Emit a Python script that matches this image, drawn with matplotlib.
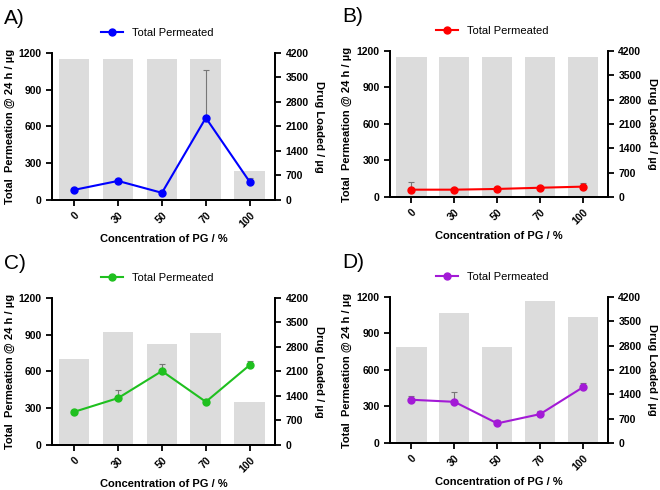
import numpy as np
import matplotlib.pyplot as plt

plt.rcParams['font.family'] = ['Liberation Sans', 'DejaVu Sans']

categories = ["0", "30", "50", "70", "100"]

# drug loaded (right axis, bars)
loaded_a = [4030, 4030, 4030, 4030, 830]
loaded_b = [4030, 4030, 4030, 4030, 4030]
loaded_c = [2460, 3220, 2890, 3200, 1240]
loaded_d = [2750, 3750, 2750, 4085, 3630]

# total permeated (left axis, line) with upper error
perm_a = [82, 155, 58, 670, 147]
err_a = [6, 14, 4, 390, 36]
perm_b = [60, 60, 66, 76, 85]
err_b = [66, 3, 4, 6, 27]
perm_c = [270, 382, 603, 352, 652]
err_c = [6, 65, 57, 8, 35]
perm_d = [355, 338, 161, 237, 458]
err_d = [35, 78, 30, 28, 33]

panels = [
    ("A)", loaded_a, perm_a, err_a, "#0000ff", [0.079, 0.592, 0.338, 0.300]),
    ("B)", loaded_b, perm_b, err_b, "#ff0000", [0.591, 0.598, 0.330, 0.298]),
    ("C)", loaded_c, perm_c, err_c, "#1fc01f", [0.079, 0.092, 0.338, 0.300]),
    ("D)", loaded_d, perm_d, err_d, "#a31ad6", [0.591, 0.096, 0.330, 0.298]),
]

fig = plt.figure(figsize=(6.6, 4.9), dpi=100)

for letter, loaded, perm, err, color, rect in panels:
    x = np.arange(len(categories))
    ax = fig.add_axes(rect)
    ax2 = ax.twinx()

    ax2.bar(x, loaded, width=0.7, color="#dcdcdc", zorder=1)
    ax2.set_ylim(0, 4200)
    ax2.set_yticks(np.arange(0, 4201, 700))

    ax.errorbar(x, perm, yerr=[np.zeros(len(err)), err], fmt="none",
                ecolor="#777777", elinewidth=0.8, capsize=2.5, capthick=0.8,
                zorder=2)
    ax.plot(x, perm, color=color, marker="o", markersize=5, linewidth=1.5,
            label="Total Permeated", zorder=3)
    ax.set_ylim(0, 1200)
    ax.set_yticks(np.arange(0, 1201, 300))
    ax.set_xlim(-0.5, 4.58)
    ax.set_xticks(x)
    ax.set_xticklabels(categories, rotation=45, ha="right", rotation_mode="anchor")

    ax.set_zorder(ax2.get_zorder() + 1)
    ax.patch.set_visible(False)

    for a in (ax, ax2):
        a.spines["top"].set_visible(False)
        for s in ("left", "right", "bottom"):
            a.spines[s].set_linewidth(1.3)
        a.tick_params(width=1.3, length=4, labelsize=7.5)
        for lbl in a.get_xticklabels() + a.get_yticklabels():
            lbl.set_fontweight("bold")

    ax.set_ylabel("Total  Permeation @ 24 h / µg", fontsize=8,
                  fontweight="bold", labelpad=3)
    ax2.set_ylabel("Drug Loaded / µg", fontsize=8, fontweight="bold",
                   rotation=270, labelpad=11)
    ax.set_xlabel("Concentration of PG / %", fontsize=8, fontweight="bold",
                  labelpad=3)

    ax.legend(loc="lower center", bbox_to_anchor=(0.47, 1.07), frameon=False,
              fontsize=8, handlelength=2.0, borderaxespad=0)

    fig.text(rect[0] - 0.073, rect[1] + rect[3] + 0.07, letter,
             fontsize=15, ha="left", va="center")

fig.savefig("out.png", dpi=100)
